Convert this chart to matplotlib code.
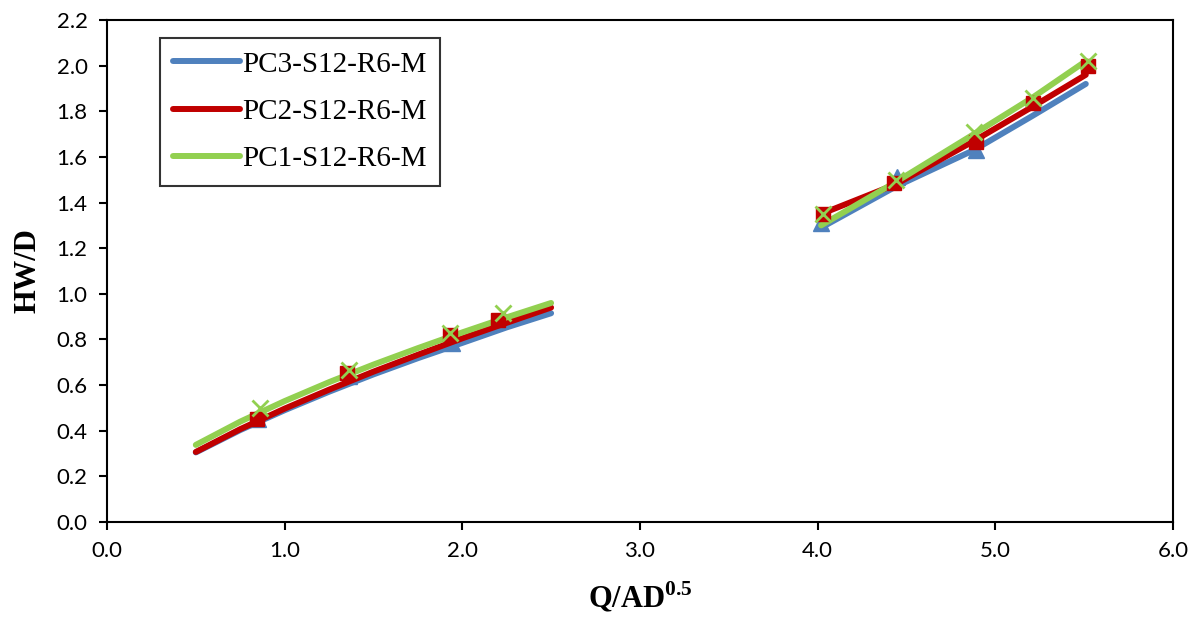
import numpy as np
import matplotlib
matplotlib.use("Agg")
import matplotlib.pyplot as plt

plt.rcParams['mathtext.fontset'] = 'custom'
plt.rcParams['mathtext.rm'] = 'Liberation Serif:bold'
plt.rcParams['mathtext.bf'] = 'Liberation Serif:bold'

# fitted curves, low-flow branch and high-flow branch
curve_x_low = [0.5, 0.75, 1.0, 1.25, 1.5, 1.75, 2.0, 2.25, 2.5]
pc3_curve_low = [0.305, 0.403, 0.490, 0.571, 0.647, 0.718, 0.785, 0.853, 0.915]
pc2_curve_low = [0.307, 0.407, 0.497, 0.580, 0.659, 0.733, 0.805, 0.873, 0.940]
pc1_curve_low = [0.338, 0.440, 0.530, 0.613, 0.690, 0.762, 0.831, 0.897, 0.960]

curve_x_high = [4.02, 4.44, 4.88, 5.21, 5.51]
pc3_curve_high = [1.29, 1.47, 1.63, 1.78, 1.92]
pc2_curve_high = [1.35, 1.48, 1.67, 1.82, 1.96]
pc1_curve_high = [1.30, 1.49, 1.70, 1.86, 2.02]

# measured points
pc3_x = [0.85, 1.36, 1.94, 4.02, 4.45, 4.89]
pc3_y = [0.45, 0.64, 0.785, 1.31, 1.51, 1.63]
pc2_x = [0.845, 1.35, 1.93, 2.20, 4.03, 4.43, 4.89, 5.21, 5.52]
pc2_y = [0.452, 0.655, 0.82, 0.886, 1.35, 1.485, 1.665, 1.835, 2.00]
pc1_x = [0.86, 1.36, 1.93, 2.23, 4.03, 4.44, 4.88, 5.21, 5.52]
pc1_y = [0.50, 0.665, 0.83, 0.915, 1.35, 1.50, 1.71, 1.86, 2.02]

blue = '#4F81BD'
red = '#C00000'
green = '#92D050'

fig = plt.figure(figsize=(11.98, 6.18), dpi=100)
ax = fig.add_axes([0.0893, 0.1553, 0.8897, 0.8123])

lw = 4.3
for xs, lo, hi, c, lab, z in [
    (curve_x_low, pc3_curve_low, pc3_curve_high, blue, 'PC3-S12-R6-M', 2),
    (curve_x_low, pc2_curve_low, pc2_curve_high, red, 'PC2-S12-R6-M', 3),
    (curve_x_low, pc1_curve_low, pc1_curve_high, green, 'PC1-S12-R6-M', 4),
]:
    ax.plot(xs, lo, color=c, lw=lw, solid_capstyle='round', zorder=z, label=lab)
    ax.plot(curve_x_high, hi, color=c, lw=lw, solid_capstyle='round', zorder=z)

ax.plot(pc3_x, pc3_y, ls='none', marker='^', ms=11, color=blue, zorder=1)
ax.plot(pc2_x, pc2_y, ls='none', marker='s', ms=10, color=red, zorder=6)
ax.plot(pc1_x, pc1_y, ls='none', marker='x', ms=11, mew=2, color=green, zorder=7)

ax.set_xlim(0, 6)
ax.set_ylim(0, 2.2)
ax.set_xticks(np.arange(0, 6.01, 1.0))
ax.set_yticks(np.arange(0, 2.21, 0.2))
ax.xaxis.set_major_formatter(matplotlib.ticker.FormatStrFormatter('%.1f'))
ax.yaxis.set_major_formatter(matplotlib.ticker.FormatStrFormatter('%.1f'))
ax.tick_params(direction='out', length=6, width=1.5, labelsize=16, pad=8)
for lbl in ax.get_xticklabels() + ax.get_yticklabels():
    lbl.set_fontfamily('Lato')
for s in ax.spines.values():
    s.set_linewidth(1.5)
    s.set_color('black')

ax.set_xlabel(r'Q/AD$^{\mathbf{0.5}}$', fontfamily='Liberation Serif',
              fontweight='bold', fontsize=22, labelpad=13)
ax.set_ylabel('HW/D', fontfamily='Liberation Serif', fontweight='bold',
              fontsize=22, labelpad=10)

leg = ax.legend(loc='upper left', bbox_to_anchor=(0.05, 0.964), borderaxespad=0,
                prop={'family': 'Liberation Serif', 'size': 21},
                frameon=True, fancybox=False, handlelength=2.3, handletextpad=0.05,
                labelspacing=0.72, borderpad=0.45)
leg.get_frame().set_edgecolor('black')
leg.get_frame().set_linewidth(1.5)

fig.savefig('out.png', dpi=100)
